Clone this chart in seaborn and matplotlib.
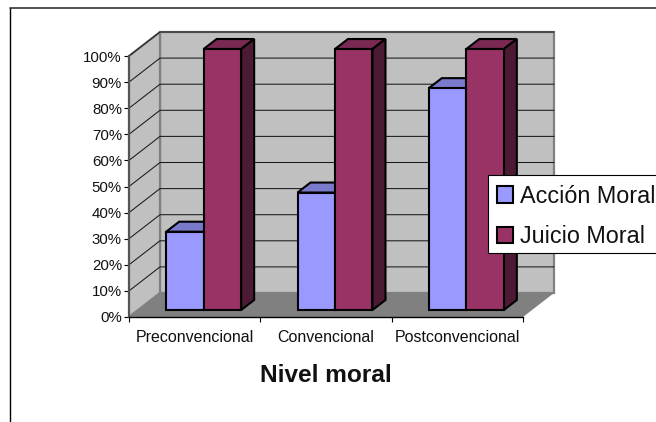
import matplotlib
matplotlib.use("Agg")
import matplotlib.pyplot as plt
import pandas as pd
import seaborn as sns
from matplotlib.patches import Polygon
from matplotlib.transforms import Affine2D, IdentityTransform

categories = ["Preconvencional", "Convencional", "Postconvencional"]
accion_moral = [30, 45, 85]
juicio_moral = [100, 100, 100]
series_names = ["Acción Moral", "Juicio Moral"]
percent_ticks = list(range(0, 101, 10))
x_title = "Nivel moral"

FRONT = {"Acción Moral": "#9999FF", "Juicio Moral": "#993366"}
TOP = ["#7A7ACC", "#7A2952"]
SIDE = ["#4D4D80", "#4D1A33"]

sns.set_style("white")
plt.rcParams["font.family"] = ["Liberation Sans", "DejaVu Sans"]

W, H = 656, 422
fig = plt.figure(figsize=(W / 100, H / 100), dpi=100)
ax = fig.add_axes([129 / W, (H - 317) / H, 394 / W, 261 / H])
ax.patch.set_visible(False)

df = pd.DataFrame({
    "nivel": categories * 2,
    "serie": [series_names[0]] * 3 + [series_names[1]] * 3,
    "valor": accion_moral + juicio_moral,
})
sns.barplot(data=df, x="nivel", y="valor", hue="serie", order=categories,
            hue_order=series_names, palette=FRONT, saturation=1, width=0.571,
            gap=0, edgecolor="black", linewidth=1.5, ax=ax, zorder=5)
ax.set_xlim(-0.5, 2.5)
ax.set_ylim(0, 100)
ax.set_xlabel("")
ax.set_ylabel("")

# Wall depth and bar offsets in pixels
WX, WY = 31, 24
BX, BY = 9, 7
DX, DY = 13, 10
px = IdentityTransform()
def to_px(x, y):
    return ax.transData.transform((x, y))

x0, yb = to_px(-0.5, 0)
x1, yt = to_px(2.5, 100)

def poly(points, fc, ec="none", lw=0, z=1):
    ax.add_patch(Polygon(points, closed=True, transform=px, facecolor=fc,
                         edgecolor=ec, linewidth=lw, clip_on=False, zorder=z,
                         joinstyle="miter"))

poly([(x0 + WX, yb + WY), (x1 + WX, yb + WY), (x1 + WX, yt + WY), (x0 + WX, yt + WY)],
     "#C0C0C0", "#808080", 1.6, 1)
poly([(x0, yb), (x0 + WX, yb + WY), (x0 + WX, yt + WY), (x0, yt)],
     "#C0C0C0", "#808080", 1.6, 1)
poly([(x0, yb), (x1, yb), (x1 + WX, yb + WY), (x0 + WX, yb + WY)], "#808080", z=2)

for p in percent_ticks[1:]:
    _, y = to_px(0, p)
    ax.plot([x0, x0 + WX, x1 + WX], [y, y + WY, y + WY], transform=px,
            color="#1A1A1A", lw=0.75, clip_on=False, zorder=3)

# 3D bars: the seaborn bars are the front faces, shifted into the chart depth
for s, cont in enumerate(ax.containers):
    for bar in cont.patches:
        bar.set_transform(ax.transData + Affine2D().translate(BX, BY))
        bar.set_clip_on(False)
        bar.set_zorder(5 + s * 2)
        xl, yl = to_px(bar.get_x(), 0)
        xr, yh = to_px(bar.get_x() + bar.get_width(), bar.get_height())
        xl += BX; xr += BX; yl += BY; yh += BY
        poly([(xl, yh), (xr, yh), (xr + DX, yh + DY), (xl + DX, yh + DY)],
             TOP[s], "black", 1.5, 4 + s * 2)
        poly([(xr, yl), (xr + DX, yl + DY), (xr + DX, yh + DY), (xr, yh)],
             SIDE[s], "black", 1.5, 4 + s * 2)

# Axes
ax.set_yticks(percent_ticks, [f"{p}%" for p in percent_ticks], fontsize=10.8, color="#111111")
ax.set_xticks([0, 1, 2], categories, fontsize=11.5, color="#111111")
ax.set_xticks([-0.5, 0.5, 1.5, 2.5], minor=True)
ax.tick_params(axis="y", length=3.6, width=0.8, color="black", pad=1.5, left=True)
ax.tick_params(axis="x", which="minor", length=3.6, width=0.8, color="black", bottom=True)
ax.tick_params(axis="x", which="major", length=0, pad=9)
for name in ["top", "right"]:
    ax.spines[name].set_visible(False)
ax.spines["bottom"].set(color="black", linewidth=1.0, zorder=8)
ax.spines["left"].set(color="#555555", linewidth=1.5, zorder=8)

fig.text(326 / W, 1 - 376 / H, x_title, fontsize=17.6, fontweight="bold",
         ha="center", va="center", color="#111111")

# Outer chart frame (open on the right and bottom)
fig.add_artist(plt.Line2D([10 / W, 10 / W], [0, 1 - 8 / H], color="black", lw=1.0))
fig.add_artist(plt.Line2D([10 / W, 1], [1 - 8 / H, 1 - 8 / H], color="#333333", lw=1.2))

# Legend: white box, with the entries placed over it
poly([(488, H - 253), (670, H - 253), (670, H - 175), (488, H - 175)],
     "white", "black", 0.8, 19)
handles, labels = ax.get_legend_handles_labels()
ax.get_legend().remove()
leg = ax.legend(handles, labels, loc="lower left",
                bbox_to_anchor=(489 / W, (H - 256) / H), bbox_transform=fig.transFigure,
                fontsize=16.8, frameon=False, borderaxespad=0,
                handlelength=0.7, handleheight=0.7, handletextpad=0.3,
                borderpad=0.33, labelspacing=0.76)
leg.set_zorder(20)
for t in leg.get_texts():
    t.set_color("#111111")

fig.savefig("out.png", dpi=100, facecolor="white")
